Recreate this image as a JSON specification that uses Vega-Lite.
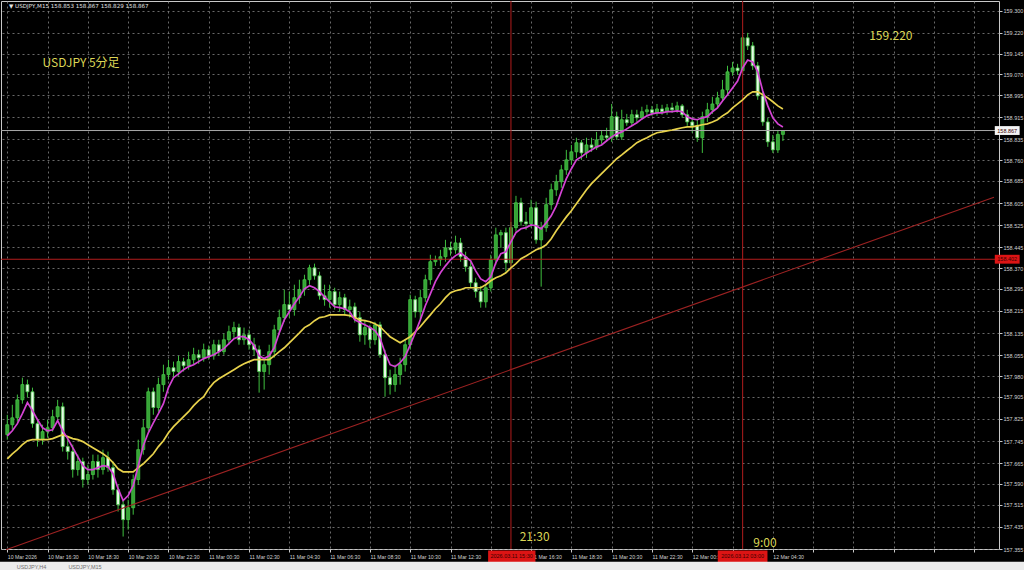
{
  "$schema": "https://vega.github.io/schema/vega-lite/v6.json",
  "autosize": {"type": "none"},
  "width": 998,
  "height": 548,
  "padding": {"left": 1, "top": 1, "right": 25, "bottom": 21},
  "background": "#000000",
  "config": {
    "view": {"stroke": "#c8c8c8", "strokeWidth": 1},
    "font": "Liberation Sans",
    "axis": {"labelOverlap": false, "labelFlush": false, "labelBound": false}
  },
  "datasets": {
    "candles": [
      {"t":"2026-03-10T14:30","o":157.768,"h":157.840,"l":157.750,"c":157.804,"m1":157.764,"m2":157.681},
      {"t":"2026-03-10T14:45","o":157.804,"h":157.876,"l":157.786,"c":157.829,"m1":157.782,"m2":157.699},
      {"t":"2026-03-10T15:00","o":157.829,"h":157.913,"l":157.815,"c":157.894,"m1":157.808,"m2":157.714},
      {"t":"2026-03-10T15:15","o":157.894,"h":157.974,"l":157.880,"c":157.949,"m1":157.844,"m2":157.732},
      {"t":"2026-03-10T15:30","o":157.949,"h":157.967,"l":157.902,"c":157.923,"m1":157.884,"m2":157.746},
      {"t":"2026-03-10T15:45","o":157.923,"h":157.938,"l":157.793,"c":157.808,"m1":157.855,"m2":157.750},
      {"t":"2026-03-10T16:00","o":157.808,"h":157.822,"l":157.725,"c":157.750,"m1":157.822,"m2":157.750},
      {"t":"2026-03-10T16:15","o":157.750,"h":157.804,"l":157.732,"c":157.779,"m1":157.793,"m2":157.750},
      {"t":"2026-03-10T16:30","o":157.779,"h":157.822,"l":157.757,"c":157.793,"m1":157.782,"m2":157.750},
      {"t":"2026-03-10T16:45","o":157.793,"h":157.858,"l":157.779,"c":157.833,"m1":157.786,"m2":157.754},
      {"t":"2026-03-10T17:00","o":157.833,"h":157.894,"l":157.822,"c":157.869,"m1":157.819,"m2":157.761},
      {"t":"2026-03-10T17:15","o":157.869,"h":157.884,"l":157.707,"c":157.725,"m1":157.782,"m2":157.768},
      {"t":"2026-03-10T17:30","o":157.725,"h":157.757,"l":157.678,"c":157.707,"m1":157.754,"m2":157.761},
      {"t":"2026-03-10T17:45","o":157.707,"h":157.732,"l":157.613,"c":157.642,"m1":157.721,"m2":157.754},
      {"t":"2026-03-10T18:00","o":157.642,"h":157.696,"l":157.620,"c":157.671,"m1":157.689,"m2":157.750},
      {"t":"2026-03-10T18:15","o":157.671,"h":157.685,"l":157.577,"c":157.606,"m1":157.656,"m2":157.743},
      {"t":"2026-03-10T18:30","o":157.606,"h":157.660,"l":157.588,"c":157.624,"m1":157.642,"m2":157.732},
      {"t":"2026-03-10T18:45","o":157.624,"h":157.696,"l":157.606,"c":157.671,"m1":157.642,"m2":157.721},
      {"t":"2026-03-10T19:00","o":157.671,"h":157.696,"l":157.613,"c":157.642,"m1":157.649,"m2":157.710},
      {"t":"2026-03-10T19:15","o":157.642,"h":157.714,"l":157.624,"c":157.685,"m1":157.656,"m2":157.699},
      {"t":"2026-03-10T19:30","o":157.685,"h":157.707,"l":157.634,"c":157.649,"m1":157.653,"m2":157.685},
      {"t":"2026-03-10T19:45","o":157.649,"h":157.671,"l":157.551,"c":157.569,"m1":157.627,"m2":157.667},
      {"t":"2026-03-10T20:00","o":157.569,"h":157.588,"l":157.490,"c":157.515,"m1":157.573,"m2":157.645},
      {"t":"2026-03-10T20:15","o":157.515,"h":157.533,"l":157.400,"c":157.461,"m1":157.530,"m2":157.634},
      {"t":"2026-03-10T20:30","o":157.461,"h":157.533,"l":157.425,"c":157.504,"m1":157.548,"m2":157.634},
      {"t":"2026-03-10T20:45","o":157.504,"h":157.624,"l":157.479,"c":157.606,"m1":157.584,"m2":157.634},
      {"t":"2026-03-10T21:00","o":157.606,"h":157.750,"l":157.588,"c":157.714,"m1":157.656,"m2":157.649},
      {"t":"2026-03-10T21:15","o":157.714,"h":157.822,"l":157.696,"c":157.793,"m1":157.728,"m2":157.663},
      {"t":"2026-03-10T21:30","o":157.793,"h":157.938,"l":157.779,"c":157.923,"m1":157.775,"m2":157.681},
      {"t":"2026-03-10T21:45","o":157.923,"h":157.938,"l":157.840,"c":157.866,"m1":157.811,"m2":157.699},
      {"t":"2026-03-10T22:00","o":157.866,"h":157.974,"l":157.851,"c":157.949,"m1":157.844,"m2":157.725},
      {"t":"2026-03-10T22:15","o":157.949,"h":158.021,"l":157.923,"c":157.985,"m1":157.880,"m2":157.746},
      {"t":"2026-03-10T22:30","o":157.985,"h":158.039,"l":157.967,"c":158.010,"m1":157.938,"m2":157.775},
      {"t":"2026-03-10T22:45","o":158.010,"h":158.032,"l":157.974,"c":157.996,"m1":157.974,"m2":157.797},
      {"t":"2026-03-10T23:00","o":157.996,"h":158.053,"l":157.981,"c":158.032,"m1":157.988,"m2":157.815},
      {"t":"2026-03-10T23:15","o":158.032,"h":158.046,"l":157.996,"c":158.017,"m1":158.003,"m2":157.833},
      {"t":"2026-03-10T23:30","o":158.017,"h":158.068,"l":158.003,"c":158.039,"m1":158.014,"m2":157.851},
      {"t":"2026-03-10T23:45","o":158.039,"h":158.082,"l":158.021,"c":158.057,"m1":158.021,"m2":157.873},
      {"t":"2026-03-11T00:00","o":158.057,"h":158.075,"l":158.024,"c":158.046,"m1":158.032,"m2":157.891},
      {"t":"2026-03-11T00:15","o":158.046,"h":158.097,"l":158.032,"c":158.075,"m1":158.043,"m2":157.905},
      {"t":"2026-03-11T00:30","o":158.075,"h":158.090,"l":158.039,"c":158.053,"m1":158.050,"m2":157.934},
      {"t":"2026-03-11T00:45","o":158.053,"h":158.111,"l":158.039,"c":158.093,"m1":158.057,"m2":157.956},
      {"t":"2026-03-11T01:00","o":158.093,"h":158.111,"l":158.053,"c":158.068,"m1":158.068,"m2":157.970},
      {"t":"2026-03-11T01:15","o":158.068,"h":158.133,"l":158.057,"c":158.111,"m1":158.079,"m2":157.981},
      {"t":"2026-03-11T01:30","o":158.111,"h":158.162,"l":158.093,"c":158.140,"m1":158.097,"m2":157.992},
      {"t":"2026-03-11T01:45","o":158.140,"h":158.176,"l":158.118,"c":158.155,"m1":158.115,"m2":158.003},
      {"t":"2026-03-11T02:00","o":158.155,"h":158.169,"l":158.093,"c":158.111,"m1":158.122,"m2":158.014},
      {"t":"2026-03-11T02:15","o":158.111,"h":158.155,"l":158.093,"c":158.129,"m1":158.122,"m2":158.024},
      {"t":"2026-03-11T02:30","o":158.129,"h":158.147,"l":158.075,"c":158.093,"m1":158.111,"m2":158.032},
      {"t":"2026-03-11T02:45","o":158.093,"h":158.118,"l":158.053,"c":158.075,"m1":158.090,"m2":158.039},
      {"t":"2026-03-11T03:00","o":158.075,"h":158.090,"l":157.920,"c":157.996,"m1":158.053,"m2":158.039},
      {"t":"2026-03-11T03:15","o":157.996,"h":158.039,"l":157.931,"c":158.021,"m1":158.043,"m2":158.039},
      {"t":"2026-03-11T03:30","o":158.021,"h":158.093,"l":157.985,"c":158.068,"m1":158.053,"m2":158.039},
      {"t":"2026-03-11T03:45","o":158.068,"h":158.165,"l":158.046,"c":158.147,"m1":158.082,"m2":158.053},
      {"t":"2026-03-11T04:00","o":158.147,"h":158.220,"l":158.129,"c":158.191,"m1":158.136,"m2":158.068},
      {"t":"2026-03-11T04:15","o":158.191,"h":158.292,"l":158.176,"c":158.238,"m1":158.183,"m2":158.082},
      {"t":"2026-03-11T04:30","o":158.238,"h":158.285,"l":158.191,"c":158.220,"m1":158.212,"m2":158.100},
      {"t":"2026-03-11T04:45","o":158.220,"h":158.310,"l":158.198,"c":158.263,"m1":158.241,"m2":158.118},
      {"t":"2026-03-11T05:00","o":158.263,"h":158.328,"l":158.241,"c":158.292,"m1":158.266,"m2":158.136},
      {"t":"2026-03-11T05:15","o":158.292,"h":158.346,"l":158.270,"c":158.328,"m1":158.295,"m2":158.155},
      {"t":"2026-03-11T05:30","o":158.328,"h":158.382,"l":158.310,"c":158.371,"m1":158.306,"m2":158.165},
      {"t":"2026-03-11T05:45","o":158.371,"h":158.386,"l":158.328,"c":158.342,"m1":158.299,"m2":158.180},
      {"t":"2026-03-11T06:00","o":158.342,"h":158.357,"l":158.256,"c":158.270,"m1":158.285,"m2":158.191},
      {"t":"2026-03-11T06:15","o":158.270,"h":158.310,"l":158.234,"c":158.256,"m1":158.266,"m2":158.194},
      {"t":"2026-03-11T06:30","o":158.256,"h":158.310,"l":158.227,"c":158.285,"m1":158.248,"m2":158.201},
      {"t":"2026-03-11T06:45","o":158.285,"h":158.299,"l":158.220,"c":158.238,"m1":158.230,"m2":158.201},
      {"t":"2026-03-11T07:00","o":158.238,"h":158.285,"l":158.212,"c":158.263,"m1":158.227,"m2":158.201},
      {"t":"2026-03-11T07:15","o":158.263,"h":158.277,"l":158.198,"c":158.220,"m1":158.223,"m2":158.201},
      {"t":"2026-03-11T07:30","o":158.220,"h":158.256,"l":158.191,"c":158.230,"m1":158.212,"m2":158.198},
      {"t":"2026-03-11T07:45","o":158.230,"h":158.245,"l":158.173,"c":158.191,"m1":158.183,"m2":158.191},
      {"t":"2026-03-11T08:00","o":158.191,"h":158.212,"l":158.104,"c":158.129,"m1":158.173,"m2":158.183},
      {"t":"2026-03-11T08:15","o":158.129,"h":158.183,"l":158.093,"c":158.155,"m1":158.165,"m2":158.180},
      {"t":"2026-03-11T08:30","o":158.155,"h":158.165,"l":158.082,"c":158.111,"m1":158.155,"m2":158.176},
      {"t":"2026-03-11T08:45","o":158.111,"h":158.176,"l":158.093,"c":158.165,"m1":158.144,"m2":158.169},
      {"t":"2026-03-11T09:00","o":158.165,"h":158.176,"l":158.046,"c":158.057,"m1":158.118,"m2":158.158},
      {"t":"2026-03-11T09:15","o":158.057,"h":158.075,"l":157.905,"c":157.974,"m1":158.064,"m2":158.140},
      {"t":"2026-03-11T09:30","o":157.974,"h":158.003,"l":157.913,"c":157.949,"m1":158.021,"m2":158.122},
      {"t":"2026-03-11T09:45","o":157.949,"h":158.021,"l":157.923,"c":157.985,"m1":158.014,"m2":158.111},
      {"t":"2026-03-11T10:00","o":157.985,"h":158.046,"l":157.949,"c":158.021,"m1":158.028,"m2":158.100},
      {"t":"2026-03-11T10:15","o":158.021,"h":158.111,"l":157.996,"c":158.093,"m1":158.050,"m2":158.111},
      {"t":"2026-03-11T10:30","o":158.093,"h":158.274,"l":158.075,"c":158.256,"m1":158.093,"m2":158.122},
      {"t":"2026-03-11T10:45","o":158.256,"h":158.270,"l":158.191,"c":158.212,"m1":158.136,"m2":158.140},
      {"t":"2026-03-11T11:00","o":158.212,"h":158.292,"l":158.183,"c":158.263,"m1":158.183,"m2":158.158},
      {"t":"2026-03-11T11:15","o":158.263,"h":158.346,"l":158.248,"c":158.328,"m1":158.234,"m2":158.180},
      {"t":"2026-03-11T11:30","o":158.328,"h":158.418,"l":158.310,"c":158.393,"m1":158.277,"m2":158.201},
      {"t":"2026-03-11T11:45","o":158.393,"h":158.415,"l":158.378,"c":158.400,"m1":158.321,"m2":158.223},
      {"t":"2026-03-11T12:00","o":158.400,"h":158.436,"l":158.378,"c":158.411,"m1":158.353,"m2":158.241},
      {"t":"2026-03-11T12:15","o":158.411,"h":158.472,"l":158.393,"c":158.443,"m1":158.378,"m2":158.263},
      {"t":"2026-03-11T12:30","o":158.443,"h":158.465,"l":158.415,"c":158.436,"m1":158.400,"m2":158.281},
      {"t":"2026-03-11T12:45","o":158.436,"h":158.487,"l":158.422,"c":158.461,"m1":158.415,"m2":158.288},
      {"t":"2026-03-11T13:00","o":158.461,"h":158.479,"l":158.393,"c":158.411,"m1":158.425,"m2":158.292},
      {"t":"2026-03-11T13:15","o":158.411,"h":158.429,"l":158.357,"c":158.375,"m1":158.411,"m2":158.299},
      {"t":"2026-03-11T13:30","o":158.375,"h":158.393,"l":158.299,"c":158.317,"m1":158.396,"m2":158.299},
      {"t":"2026-03-11T13:45","o":158.317,"h":158.335,"l":158.263,"c":158.285,"m1":158.360,"m2":158.299},
      {"t":"2026-03-11T14:00","o":158.285,"h":158.306,"l":158.227,"c":158.248,"m1":158.331,"m2":158.299},
      {"t":"2026-03-11T14:15","o":158.248,"h":158.313,"l":158.227,"c":158.299,"m1":158.321,"m2":158.310},
      {"t":"2026-03-11T14:30","o":158.299,"h":158.418,"l":158.285,"c":158.400,"m1":158.339,"m2":158.324},
      {"t":"2026-03-11T14:45","o":158.400,"h":158.516,"l":158.382,"c":158.490,"m1":158.389,"m2":158.335},
      {"t":"2026-03-11T15:00","o":158.490,"h":158.508,"l":158.443,"c":158.498,"m1":158.422,"m2":158.342},
      {"t":"2026-03-11T15:15","o":158.498,"h":158.516,"l":158.357,"c":158.389,"m1":158.429,"m2":158.353},
      {"t":"2026-03-11T15:30","o":158.389,"h":158.537,"l":158.371,"c":158.516,"m1":158.465,"m2":158.371},
      {"t":"2026-03-11T15:45","o":158.516,"h":158.631,"l":158.501,"c":158.606,"m1":158.498,"m2":158.386},
      {"t":"2026-03-11T16:00","o":158.606,"h":158.624,"l":158.523,"c":158.537,"m1":158.512,"m2":158.404},
      {"t":"2026-03-11T16:15","o":158.537,"h":158.573,"l":158.508,"c":158.530,"m1":158.516,"m2":158.414},
      {"t":"2026-03-11T16:30","o":158.530,"h":158.617,"l":158.516,"c":158.588,"m1":158.526,"m2":158.425},
      {"t":"2026-03-11T16:45","o":158.588,"h":158.610,"l":158.458,"c":158.472,"m1":158.523,"m2":158.436},
      {"t":"2026-03-11T17:00","o":158.472,"h":158.537,"l":158.303,"c":158.516,"m1":158.512,"m2":158.443},
      {"t":"2026-03-11T17:15","o":158.516,"h":158.624,"l":158.501,"c":158.599,"m1":158.534,"m2":158.454},
      {"t":"2026-03-11T17:30","o":158.599,"h":158.675,"l":158.581,"c":158.653,"m1":158.559,"m2":158.476},
      {"t":"2026-03-11T17:45","o":158.653,"h":158.707,"l":158.631,"c":158.682,"m1":158.595,"m2":158.505},
      {"t":"2026-03-11T18:00","o":158.682,"h":158.743,"l":158.660,"c":158.725,"m1":158.646,"m2":158.530},
      {"t":"2026-03-11T18:15","o":158.725,"h":158.797,"l":158.707,"c":158.761,"m1":158.693,"m2":158.555},
      {"t":"2026-03-11T18:30","o":158.761,"h":158.815,"l":158.743,"c":158.790,"m1":158.729,"m2":158.577},
      {"t":"2026-03-11T18:45","o":158.790,"h":158.841,"l":158.768,"c":158.823,"m1":158.761,"m2":158.602},
      {"t":"2026-03-11T19:00","o":158.823,"h":158.833,"l":158.761,"c":158.786,"m1":158.772,"m2":158.628},
      {"t":"2026-03-11T19:15","o":158.786,"h":158.841,"l":158.768,"c":158.815,"m1":158.786,"m2":158.653},
      {"t":"2026-03-11T19:30","o":158.815,"h":158.841,"l":158.790,"c":158.805,"m1":158.797,"m2":158.675},
      {"t":"2026-03-11T19:45","o":158.805,"h":158.862,"l":158.797,"c":158.833,"m1":158.808,"m2":158.693},
      {"t":"2026-03-11T20:00","o":158.833,"h":158.869,"l":158.819,"c":158.848,"m1":158.815,"m2":158.711},
      {"t":"2026-03-11T20:15","o":158.848,"h":158.877,"l":158.826,"c":158.841,"m1":158.830,"m2":158.729},
      {"t":"2026-03-11T20:30","o":158.841,"h":158.963,"l":158.826,"c":158.917,"m1":158.844,"m2":158.747},
      {"t":"2026-03-11T20:45","o":158.917,"h":158.935,"l":158.833,"c":158.844,"m1":158.855,"m2":158.765},
      {"t":"2026-03-11T21:00","o":158.844,"h":158.942,"l":158.833,"c":158.906,"m1":158.862,"m2":158.779},
      {"t":"2026-03-11T21:15","o":158.906,"h":158.927,"l":158.884,"c":158.895,"m1":158.873,"m2":158.794},
      {"t":"2026-03-11T21:30","o":158.895,"h":158.942,"l":158.884,"c":158.924,"m1":158.884,"m2":158.808},
      {"t":"2026-03-11T21:45","o":158.924,"h":158.942,"l":158.898,"c":158.913,"m1":158.895,"m2":158.823},
      {"t":"2026-03-11T22:00","o":158.913,"h":158.953,"l":158.906,"c":158.935,"m1":158.909,"m2":158.833},
      {"t":"2026-03-11T22:15","o":158.935,"h":158.960,"l":158.920,"c":158.942,"m1":158.920,"m2":158.841},
      {"t":"2026-03-11T22:30","o":158.942,"h":158.956,"l":158.920,"c":158.931,"m1":158.927,"m2":158.851},
      {"t":"2026-03-11T22:45","o":158.931,"h":158.963,"l":158.920,"c":158.945,"m1":158.931,"m2":158.859},
      {"t":"2026-03-11T23:00","o":158.945,"h":158.960,"l":158.924,"c":158.935,"m1":158.931,"m2":158.862},
      {"t":"2026-03-11T23:15","o":158.935,"h":158.963,"l":158.924,"c":158.949,"m1":158.935,"m2":158.866},
      {"t":"2026-03-11T23:30","o":158.949,"h":158.967,"l":158.931,"c":158.942,"m1":158.935,"m2":158.869},
      {"t":"2026-03-11T23:45","o":158.942,"h":158.971,"l":158.931,"c":158.956,"m1":158.938,"m2":158.873},
      {"t":"2026-03-12T00:00","o":158.956,"h":158.963,"l":158.913,"c":158.924,"m1":158.935,"m2":158.877},
      {"t":"2026-03-12T00:15","o":158.924,"h":158.942,"l":158.884,"c":158.898,"m1":158.917,"m2":158.880},
      {"t":"2026-03-12T00:30","o":158.898,"h":158.913,"l":158.859,"c":158.884,"m1":158.909,"m2":158.880},
      {"t":"2026-03-12T00:45","o":158.884,"h":158.906,"l":158.826,"c":158.841,"m1":158.906,"m2":158.884},
      {"t":"2026-03-12T01:00","o":158.841,"h":158.935,"l":158.786,"c":158.917,"m1":158.913,"m2":158.888},
      {"t":"2026-03-12T01:15","o":158.917,"h":158.967,"l":158.898,"c":158.942,"m1":158.917,"m2":158.891},
      {"t":"2026-03-12T01:30","o":158.942,"h":158.989,"l":158.927,"c":158.963,"m1":158.935,"m2":158.898},
      {"t":"2026-03-12T01:45","o":158.963,"h":159.007,"l":158.949,"c":158.985,"m1":158.949,"m2":158.906},
      {"t":"2026-03-12T02:00","o":158.985,"h":159.050,"l":158.971,"c":159.014,"m1":158.974,"m2":158.920},
      {"t":"2026-03-12T02:15","o":159.014,"h":159.101,"l":158.992,"c":159.079,"m1":158.996,"m2":158.931},
      {"t":"2026-03-12T02:30","o":159.079,"h":159.115,"l":159.065,"c":159.093,"m1":159.021,"m2":158.949},
      {"t":"2026-03-12T02:45","o":159.093,"h":159.108,"l":159.068,"c":159.083,"m1":159.046,"m2":158.963},
      {"t":"2026-03-12T03:00","o":159.083,"h":159.212,"l":159.072,"c":159.202,"m1":159.093,"m2":158.978},
      {"t":"2026-03-12T03:15","o":159.202,"h":159.220,"l":159.158,"c":159.173,"m1":159.122,"m2":158.996},
      {"t":"2026-03-12T03:30","o":159.173,"h":159.187,"l":159.086,"c":159.101,"m1":159.115,"m2":159.007},
      {"t":"2026-03-12T03:45","o":159.101,"h":159.115,"l":158.978,"c":158.992,"m1":159.079,"m2":159.007},
      {"t":"2026-03-12T04:00","o":158.992,"h":159.007,"l":158.884,"c":158.898,"m1":159.010,"m2":158.996},
      {"t":"2026-03-12T04:15","o":158.898,"h":158.913,"l":158.808,"c":158.826,"m1":158.956,"m2":158.985},
      {"t":"2026-03-12T04:30","o":158.826,"h":158.851,"l":158.786,"c":158.797,"m1":158.913,"m2":158.971},
      {"t":"2026-03-12T04:45","o":158.797,"h":158.869,"l":158.786,"c":158.853,"m1":158.891,"m2":158.956},
      {"t":"2026-03-12T05:00","o":158.853,"h":158.867,"l":158.829,"c":158.867,"m1":158.880,"m2":158.945}
    ],
    "trend": [
      {"t":"2026-03-10T14:26:10","p":157.352},
      {"t":"2026-03-12T15:28:40","p":158.626}
    ],
    "vlines": [
      {"t":"2026-03-11T15:30"},
      {"t":"2026-03-12T03:00"}
    ],
    "level": [{"p":158.402}],
    "bid": [{"p":158.867}],
    "notes": [
      {"t":"2026-03-10T16:15:10","p":159.111,"txt":"USDJPY 5分足"},
      {"t":"2026-03-12T09:17","p":159.209,"txt":"159.220"},
      {"t":"2026-03-11T15:56","p":157.400,"txt":"21:30"},
      {"t":"2026-03-12T03:32","p":157.378,"txt":"9:00"}
    ],
    "header": [
      {"t":"2026-03-10T14:35","p":159.317,"txt":"▼ USDJPY,M15  158.853 158.867 158.829 158.867"}
    ],
    "boxes": [
      {"kind":"time","t1":"2026-03-11T14:22","t2":"2026-03-11T16:43","p1":157.350,"p2":157.306,"tm":"2026-03-11T15:32","pm":157.328,"txt":"2026.03.11 15:30"},
      {"kind":"time","t1":"2026-03-12T01:46","t2":"2026-03-12T04:14","p1":157.350,"p2":157.306,"tm":"2026-03-12T03:00","pm":157.328,"txt":"2026.03.12 03:00"},
      {"kind":"level","t1":"2026-03-12T15:31","t2":"2026-03-12T16:45","p1":158.418,"p2":158.386,"tm":"2026-03-12T16:08","pm":158.402,"txt":"158.402"},
      {"kind":"bid","t1":"2026-03-12T15:31","t2":"2026-03-12T16:45","p1":158.883,"p2":158.851,"tm":"2026-03-12T16:08","pm":158.867,"txt":"158.867"}
    ],
    "strip": [
      {"t1":"2026-03-10T14:00","t2":"2026-03-12T17:30","p1":157.309,"p2":157.250}
    ],
    "tabs": [
      {"t":"2026-03-10T14:58","p":157.291,"txt":"USDJPY,H4"},
      {"t":"2026-03-10T17:32","p":157.291,"txt":"USDJPY,M15"}
    ]
  },
  "layer": [
    {
      "data": {"name": "candles"},
      "mark": {"type": "rule", "color": "#3fbf3f", "strokeWidth": 1},
      "encoding": {
        "x": {
          "field": "t", "type": "temporal",
          "scale": {
            "domain": [
              {"year": 2026, "month": "mar", "date": 10, "hours": 14, "minutes": 26, "seconds": 10},
              {"year": 2026, "month": "mar", "date": 12, "hours": 15, "minutes": 28, "seconds": 40}
            ],
            "nice": false
          },
          "axis": {
            "title": null,
            "tickCount": 60,
            "values": [
              {"year": 2026, "month": "mar", "date": 10, "hours": 14, "minutes": 30},
              {"year": 2026, "month": "mar", "date": 10, "hours": 16, "minutes": 30},
              {"year": 2026, "month": "mar", "date": 10, "hours": 18, "minutes": 30},
              {"year": 2026, "month": "mar", "date": 10, "hours": 20, "minutes": 30},
              {"year": 2026, "month": "mar", "date": 10, "hours": 22, "minutes": 30},
              {"year": 2026, "month": "mar", "date": 11, "hours": 0, "minutes": 30},
              {"year": 2026, "month": "mar", "date": 11, "hours": 2, "minutes": 30},
              {"year": 2026, "month": "mar", "date": 11, "hours": 4, "minutes": 30},
              {"year": 2026, "month": "mar", "date": 11, "hours": 6, "minutes": 30},
              {"year": 2026, "month": "mar", "date": 11, "hours": 8, "minutes": 30},
              {"year": 2026, "month": "mar", "date": 11, "hours": 10, "minutes": 30},
              {"year": 2026, "month": "mar", "date": 11, "hours": 12, "minutes": 30},
              {"year": 2026, "month": "mar", "date": 11, "hours": 14, "minutes": 30},
              {"year": 2026, "month": "mar", "date": 11, "hours": 16, "minutes": 30},
              {"year": 2026, "month": "mar", "date": 11, "hours": 18, "minutes": 30},
              {"year": 2026, "month": "mar", "date": 11, "hours": 20, "minutes": 30},
              {"year": 2026, "month": "mar", "date": 11, "hours": 22, "minutes": 30},
              {"year": 2026, "month": "mar", "date": 12, "hours": 0, "minutes": 30},
              {"year": 2026, "month": "mar", "date": 12, "hours": 2, "minutes": 30},
              {"year": 2026, "month": "mar", "date": 12, "hours": 4, "minutes": 30},
              {"year": 2026, "month": "mar", "date": 12, "hours": 6, "minutes": 30},
              {"year": 2026, "month": "mar", "date": 12, "hours": 8, "minutes": 30},
              {"year": 2026, "month": "mar", "date": 12, "hours": 10, "minutes": 30},
              {"year": 2026, "month": "mar", "date": 12, "hours": 12, "minutes": 30},
              {"year": 2026, "month": "mar", "date": 12, "hours": 14, "minutes": 30}
            ],
            "labelExpr": "(date(datum.value) == 10 && hours(datum.value) == 14) ? '10 Mar 2026' : ((date(datum.value) == 12 && hours(datum.value) > 5) ? '' : (((date(datum.value) == 11 && hours(datum.value) == 14) || (date(datum.value) == 12 && hours(datum.value) == 2)) ? '' : timeFormat(datum.value, '%d %b %H:%M')))",
            "grid": true,
            "gridColor": "#8c8c8c",
            "gridDash": [2, 3],
            "gridOpacity": 0.75,
            "domain": false,
            "ticks": true,
            "tickColor": "#c8c8c8",
            "tickSize": 3,
            "labelColor": "#d0d0d0",
            "labelFont": "Liberation Sans",
            "labelFontSize": 5.2,
            "labelAlign": "left",
            "labelBaseline": "top",
            "labelPadding": 2,
            "labelOverlap": false,
            "labelFlush": false,
            "labelBound": false
          }
        },
        "y": {
          "field": "l", "type": "quantitative",
          "scale": {"domain": [157.355, 159.335], "nice": false, "zero": false},
          "axis": {
            "title": null,
            "orient": "right",
            "tickCount": 60,
            "values": [159.300,159.220,159.145,159.070,158.995,158.915,158.835,158.760,158.685,158.605,158.525,158.445,158.370,158.295,158.215,158.135,158.055,157.980,157.905,157.825,157.745,157.665,157.590,157.515,157.435,157.355],
            "format": ".3f",
            "grid": true,
            "gridColor": "#8c8c8c",
            "gridDash": [2, 3],
            "gridOpacity": 0.75,
            "domain": false,
            "tickColor": "#c8c8c8",
            "tickSize": 3,
            "labelColor": "#d0d0d0",
            "labelFont": "Liberation Sans",
            "labelFontSize": 5.5,
            "labelPadding": 1,
            "labelOverlap": false,
            "labelFlush": false,
            "labelBound": false
          }
        },
        "y2": {"field": "h"}
      }
    },
    {
      "data": {"name": "candles"},
      "mark": {"type": "bar", "width": 3, "stroke": "#46c446", "strokeWidth": 0.8},
      "encoding": {
        "x": {"field": "t", "type": "temporal", "axis": {"title": null, "labelOverlap": false}},
        "y": {"field": "o", "type": "quantitative", "axis": {"title": null, "labelOverlap": false}},
        "y2": {"field": "c"},
        "fill": {"condition": {"test": "datum.c >= datum.o", "value": "#36a436"}, "value": "#e6fbe6"}
      }
    },
    {
      "data": {"name": "trend"},
      "mark": {"type": "line", "color": "#9c2222", "strokeWidth": 1.1},
      "encoding": {
        "x": {"field": "t", "type": "temporal", "axis": {"title": null, "labelOverlap": false}},
        "y": {"field": "p", "type": "quantitative", "axis": {"title": null, "labelOverlap": false}}
      }
    },
    {
      "data": {"name": "level"},
      "mark": {"type": "rule", "color": "#b41c1c", "strokeWidth": 1.1},
      "encoding": {
        "y": {"field": "p", "type": "quantitative", "axis": {"title": null, "labelOverlap": false}}
      }
    },
    {
      "data": {"name": "bid"},
      "mark": {"type": "rule", "color": "#a8a8a8", "strokeWidth": 1},
      "encoding": {
        "y": {"field": "p", "type": "quantitative", "axis": {"title": null, "labelOverlap": false}}
      }
    },
    {
      "data": {"name": "vlines"},
      "mark": {"type": "rule", "color": "#a21a1a", "strokeWidth": 1.1},
      "encoding": {
        "x": {"field": "t", "type": "temporal", "axis": {"title": null, "labelOverlap": false}}
      }
    },
    {
      "data": {"name": "candles"},
      "mark": {"type": "line", "color": "#e8d24c", "strokeWidth": 1.7},
      "encoding": {
        "x": {"field": "t", "type": "temporal", "axis": {"title": null, "labelOverlap": false}},
        "y": {"field": "m2", "type": "quantitative", "axis": {"title": null, "labelOverlap": false}}
      }
    },
    {
      "data": {"name": "candles"},
      "mark": {"type": "line", "color": "#d444d4", "strokeWidth": 1.7},
      "encoding": {
        "x": {"field": "t", "type": "temporal", "axis": {"title": null, "labelOverlap": false}},
        "y": {"field": "m1", "type": "quantitative", "axis": {"title": null, "labelOverlap": false}}
      }
    },
    {
      "data": {"name": "notes"},
      "mark": {"type": "text", "align": "left", "baseline": "middle", "font": "Noto Sans CJK JP", "fontSize": 12, "color": "#dcd656"},
      "encoding": {
        "x": {"field": "t", "type": "temporal", "axis": {"title": null, "labelOverlap": false}},
        "y": {"field": "p", "type": "quantitative", "axis": {"title": null, "labelOverlap": false}},
        "text": {"field": "txt"}
      }
    },
    {
      "data": {"name": "header"},
      "mark": {"type": "text", "align": "left", "baseline": "middle", "font": "DejaVu Sans", "fontSize": 5.6, "color": "#e4e4e4"},
      "encoding": {
        "x": {"field": "t", "type": "temporal", "axis": {"title": null, "labelOverlap": false}},
        "y": {"field": "p", "type": "quantitative", "axis": {"title": null, "labelOverlap": false}},
        "text": {"field": "txt"}
      }
    },
    {
      "data": {"name": "boxes"},
      "mark": {"type": "rect"},
      "encoding": {
        "x": {"field": "t1", "type": "temporal", "axis": {"title": null, "labelOverlap": false}},
        "x2": {"field": "t2"},
        "y": {"field": "p1", "type": "quantitative", "axis": {"title": null, "labelOverlap": false}},
        "y2": {"field": "p2"},
        "color": {"field": "kind", "type": "nominal", "legend": null, "scale": {"domain": ["time", "level", "bid"], "range": ["#dc1414", "#dc1414", "#f4f4f4"]}}
      }
    },
    {
      "data": {"name": "boxes"},
      "mark": {"type": "text", "align": "center", "baseline": "middle", "font": "Liberation Sans", "fontSize": 5.5, "color": "#3a0000"},
      "encoding": {
        "x": {"field": "tm", "type": "temporal", "axis": {"title": null, "labelOverlap": false}},
        "y": {"field": "pm", "type": "quantitative", "axis": {"title": null, "labelOverlap": false}},
        "text": {"field": "txt"}
      }
    },
    {
      "data": {"name": "strip"},
      "mark": {"type": "rect", "color": "#ececec"},
      "encoding": {
        "x": {"field": "t1", "type": "temporal", "axis": {"title": null, "labelOverlap": false}},
        "x2": {"field": "t2"},
        "y": {"field": "p1", "type": "quantitative", "axis": {"title": null, "labelOverlap": false}},
        "y2": {"field": "p2"}
      }
    },
    {
      "data": {"name": "tabs"},
      "mark": {"type": "text", "align": "left", "baseline": "middle", "font": "Liberation Sans", "fontSize": 5.5, "color": "#707070"},
      "encoding": {
        "x": {"field": "t", "type": "temporal", "axis": {"title": null, "labelOverlap": false}},
        "y": {"field": "p", "type": "quantitative", "axis": {"title": null, "labelOverlap": false}},
        "text": {"field": "txt"}
      }
    }
  ]
}
